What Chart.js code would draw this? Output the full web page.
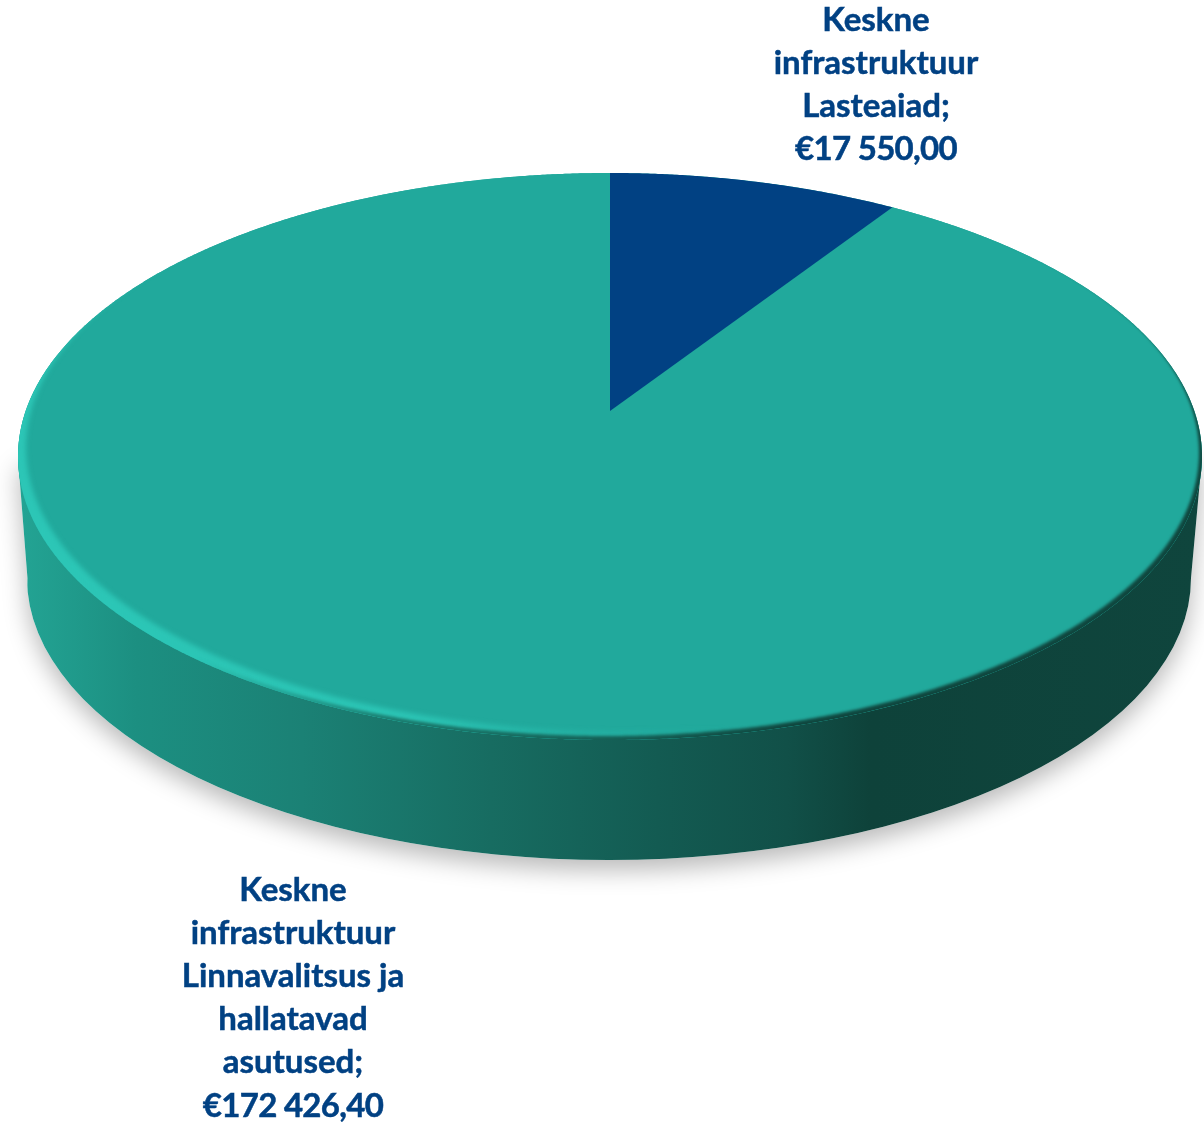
<!DOCTYPE html>
<html lang="et">
<head>
<meta charset="utf-8">
<style>html,body{margin:0;padding:0;background:#fff}canvas{display:block}</style>
<script src="https://cdn.jsdelivr.net/npm/chart.js@4/dist/chart.umd.js"></script>
</head>
<body>
<canvas id="c" width="1204" height="1122"></canvas>
<script>
const categories = ["Keskne infrastruktuur Lasteaiad", "Keskne infrastruktuur Linnavalitsus ja hallatavad asutused"];
const values = [17550.00, 172426.40];
const sliceColors = ["#014183", "#21A99C"];
const labelLines = [["Keskne", "infrastruktuur", "Lasteaiad;"], ["Keskne", "infrastruktuur", "Linnavalitsus ja", "hallatavad", "asutused;"]];
const valueLabels = ["€17 550,00", "€172 426,40"];

const TEXT = "#014183", FONT = "bold 33px Lato";
const K = -0.1605, SY = 1 + 0.1605, SX = 584.3 / 238;
const LABEL_POS = [{x: 876, y: 20}, {x: 293, y: 890}];
const LINE_H = 43.2;

function project(el, ang) {
  const u = Math.cos(ang), v = Math.sin(ang), d = 1 + K * v, R = el.outerRadius;
  return [el.x + SX * R * u / d, el.y + SY * R * v / d];
}
function arcPath(ctx, el, a0, a1, move) {
  const n = Math.max(2, Math.ceil(Math.abs(a1 - a0) / 0.005));
  for (let i = 0; i <= n; i++) {
    const p = project(el, a0 + (a1 - a0) * i / n);
    if (i === 0 && move) ctx.moveTo(p[0], p[1]); else ctx.lineTo(p[0], p[1]);
  }
}
function wallPath(ctx) {
  ctx.beginPath();
  ctx.moveTo(18, 458);
  ctx.lineTo(28, 585);
  ctx.ellipse(609, 578, 582, 282, 0, Math.PI, 0, true);
  ctx.lineTo(1202, 458);
  ctx.closePath();
}
// crescent: everything outside the disc moved by (dx, dy), blurred, painted inside the disc
function crescent(ctx, el, dx, dy, style, blur) {
  ctx.save();
  ctx.filter = "blur(" + blur + "px)";
  ctx.fillStyle = style;
  ctx.beginPath();
  ctx.rect(-60, 100, 1324, 900);
  ctx.translate(dx, dy);
  arcPath(ctx, el, 0, Math.PI * 2, true);
  ctx.closePath();
  ctx.fill("evenodd");
  ctx.restore();
}
const pie3d = {
  id: "pie3d",
  beforeDatasetsDraw(chart) {
    const ctx = chart.ctx;
    const el = chart.getDatasetMeta(0).data[0];
    const g = ctx.createLinearGradient(18, 0, 1202, 0);
    [[0, "#23A494"], [0.1, "#1C8F81"], [0.24, "#1B8175"], [0.4, "#176C61"], [0.54, "#135B52"],
     [0.65, "#115048"], [0.72, "#0E423A"], [1, "#0F453D"]].forEach(s => g.addColorStop(s[0], s[1]));
    ctx.save();
    ctx.shadowColor = "rgba(0,0,0,0.28)";
    ctx.shadowBlur = 24;
    ctx.shadowOffsetY = 10;
    ctx.fillStyle = "#fff";
    wallPath(ctx); ctx.fill();
    ctx.restore();
    ctx.save();
    ctx.fillStyle = g;
    wallPath(ctx); ctx.fill();
    ctx.beginPath();
    arcPath(ctx, el, 0, Math.PI * 2, true);
    ctx.fillStyle = "#21A99C";
    ctx.fill();
    ctx.restore();
  },
  beforeDatasetDraw(chart) {
    const ctx = chart.ctx, meta = chart.getDatasetMeta(0);
    [1, 0].forEach(i => {
      const el = meta.data[i];
      ctx.beginPath();
      ctx.moveTo(el.x, el.y);
      arcPath(ctx, el, el.startAngle, el.endAngle, false);
      ctx.closePath();
      ctx.fillStyle = sliceColors[i];
      ctx.fill();
    });
    return false;
  },
  afterDatasetsDraw(chart) {
    const ctx = chart.ctx, el = chart.getDatasetMeta(0).data[0];
    ctx.save();
    ctx.beginPath();
    arcPath(ctx, el, 0, Math.PI * 2, true);
    ctx.clip();
    const hi = ctx.createLinearGradient(18, 0, 720, 0);
    hi.addColorStop(0, "rgba(44,198,182,1)");
    hi.addColorStop(0.55, "rgba(44,198,182,0.95)");
    hi.addColorStop(0.75, "rgba(44,198,182,0.35)");
    hi.addColorStop(1, "rgba(44,198,182,0)");
    crescent(ctx, el, 8, -9, hi, 2.5);
    const lo = ctx.createLinearGradient(200, 0, 1202, 0);
    lo.addColorStop(0, "rgba(24,125,112,0)");
    lo.addColorStop(0.2, "rgba(24,115,102,0.9)");
    lo.addColorStop(0.6, "rgba(15,70,62,1)");
    lo.addColorStop(1, "rgba(15,70,62,1)");
    crescent(ctx, el, -3, -4, lo, 1.8);
    ctx.restore();

    ctx.save();
    ctx.fillStyle = TEXT;
    ctx.strokeStyle = TEXT;
    ctx.lineWidth = 0.5;
    ctx.font = FONT;
    ctx.textAlign = "center";
    ctx.textBaseline = "middle";
    labelLines.forEach((lines, i) => {
      ctx.letterSpacing = "0px";
      lines.forEach((t, j) => {
        ctx.fillText(t, LABEL_POS[i].x, LABEL_POS[i].y + j * LINE_H);
        ctx.strokeText(t, LABEL_POS[i].x, LABEL_POS[i].y + j * LINE_H);
      });
      ctx.letterSpacing = "-0.7px";
      const vy = LABEL_POS[i].y + lines.length * LINE_H;
      ctx.fillText(valueLabels[i], LABEL_POS[i].x, vy);
      ctx.strokeText(valueLabels[i], LABEL_POS[i].x, vy);
    });
    ctx.restore();
  }
};
new Chart(document.getElementById("c"), {
  type: "pie",
  data: {labels: categories, datasets: [{data: values, backgroundColor: sliceColors, borderWidth: 0}]},
  options: {
    responsive: false,
    animation: false,
    layout: {padding: {left: 18, right: 2, top: 173, bottom: 473}},
    plugins: {legend: {display: false}, tooltip: {enabled: false}}
  },
  plugins: [pie3d]
});
</script>
</body>
</html>
